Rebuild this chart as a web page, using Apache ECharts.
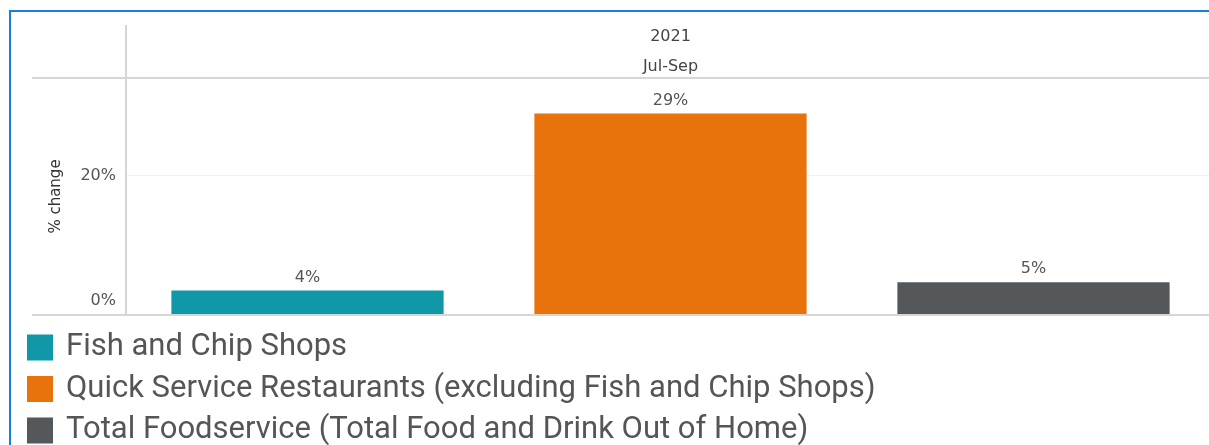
<!DOCTYPE html>
<html><head><meta charset="utf-8">
<script src="https://cdn.jsdelivr.net/npm/echarts@6/dist/echarts.min.js"></script>
<style>
html,body{margin:0;padding:0;background:#fff;overflow:hidden}
#c{position:absolute;left:0;top:0;width:1209px;height:445px}
#b{position:absolute;left:9px;top:10px;width:1300px;height:500px;border:2px solid #1a7fd6;pointer-events:none;box-sizing:border-box}
</style></head>
<body>
<div id="c"></div><div id="b"></div>
<script>
const categories = ['Fish and Chip Shops','Quick Service Restaurants (excluding Fish and Chip Shops)','Total Foodservice (Total Food and Drink Out of Home)'];
const values = [3.5, 28.9, 4.7];
const valueLabels = ['4%','29%','5%'];
const colors = ['#1097a8','#e8730c','#54585b'];
const periodYear = '2021';
const periodLabel = 'Jul-Sep';
const yTicks = [0, 20];

const SMALL = '"DejaVu Sans", sans-serif';
const BIG = 'Roboto, sans-serif';
const chart = echarts.init(document.getElementById('c'));
const series = categories.map((name, i) => ({
  name, type: 'bar', barGap: '-100%', barWidth: '75%',
  data: categories.map((_, j) => j === i ? values[i] : null),
  itemStyle: {color: colors[i]},
  label: {show: true, position: 'top', distance: 5, color: '#555', fontSize: 16, fontFamily: SMALL,
    formatter: () => valueLabels[i]},
  silent: true
}));
chart.setOption({
  animation: false,
  grid: {left: 126, width: 1089, top: 78, bottom: 130, outerBoundsMode: 'none', containLabel: false},
  legend: {
    orient: 'vertical', left: 27, top: 332, height: 160, padding: 0, itemWidth: 26, itemHeight: 26, itemGap: 10.5,
    icon: 'rect', data: categories,
    textStyle: {fontSize: 31, lineHeight: 28, color: '#555', fontFamily: BIG, padding: [0,0,0,8]}
  },
  xAxis: [
    {type: 'category', data: categories, axisLabel: {show: false}, axisTick: {show: false}, axisLine: {show: false}},
    {type: 'category', position: 'top', data: [periodLabel],
      axisLine: {show: false}, axisTick: {show: false},
      axisLabel: {margin: 3, fontSize: 16, color: '#444', fontFamily: SMALL},
      name: periodYear, nameLocation: 'middle', nameGap: 33,
      nameTextStyle: {fontSize: 16, color: '#444', fontFamily: SMALL}}
  ],
  yAxis: {
    type: 'value', min: 0, max: 34, interval: 20,
    axisLine: {show: false}, axisTick: {show: false},
    splitLine: {lineStyle: {color: '#f0f0f0', width: 1}},
    axisLabel: {fontSize: 16, color: '#555', fontFamily: SMALL, margin: 10,
      formatter: v => yTicks.includes(v) ? (v === 0 ? '{z|' + v + '%}' : v + '%') : '',
      rich: {z: {fontSize: 16, color: '#555', fontFamily: SMALL, padding: [0,0,29,0]}}},
    name: '% change', nameLocation: 'middle', nameGap: 62,
    nameTextStyle: {fontSize: 15, color: '#333', fontFamily: SMALL}
  },
  series
});
const y0 = chart.convertToPixel({yAxisIndex: 0}, 0);
const yTop = chart.convertToPixel({yAxisIndex: 0}, 34);
const lc = '#d6d6d6';
chart.setOption({graphic: [
  {type: 'line', shape: {x1: 32, y1: y0, x2: 1209, y2: y0}, style: {stroke: lc, lineWidth: 2}, z: 10},
  {type: 'line', shape: {x1: 32, y1: yTop, x2: 1209, y2: yTop}, style: {stroke: lc, lineWidth: 2}, z: 10},
  {type: 'line', shape: {x1: 126, y1: 25, x2: 126, y2: y0}, style: {stroke: lc, lineWidth: 2}, z: 10}
]});
</script>
</body></html>
